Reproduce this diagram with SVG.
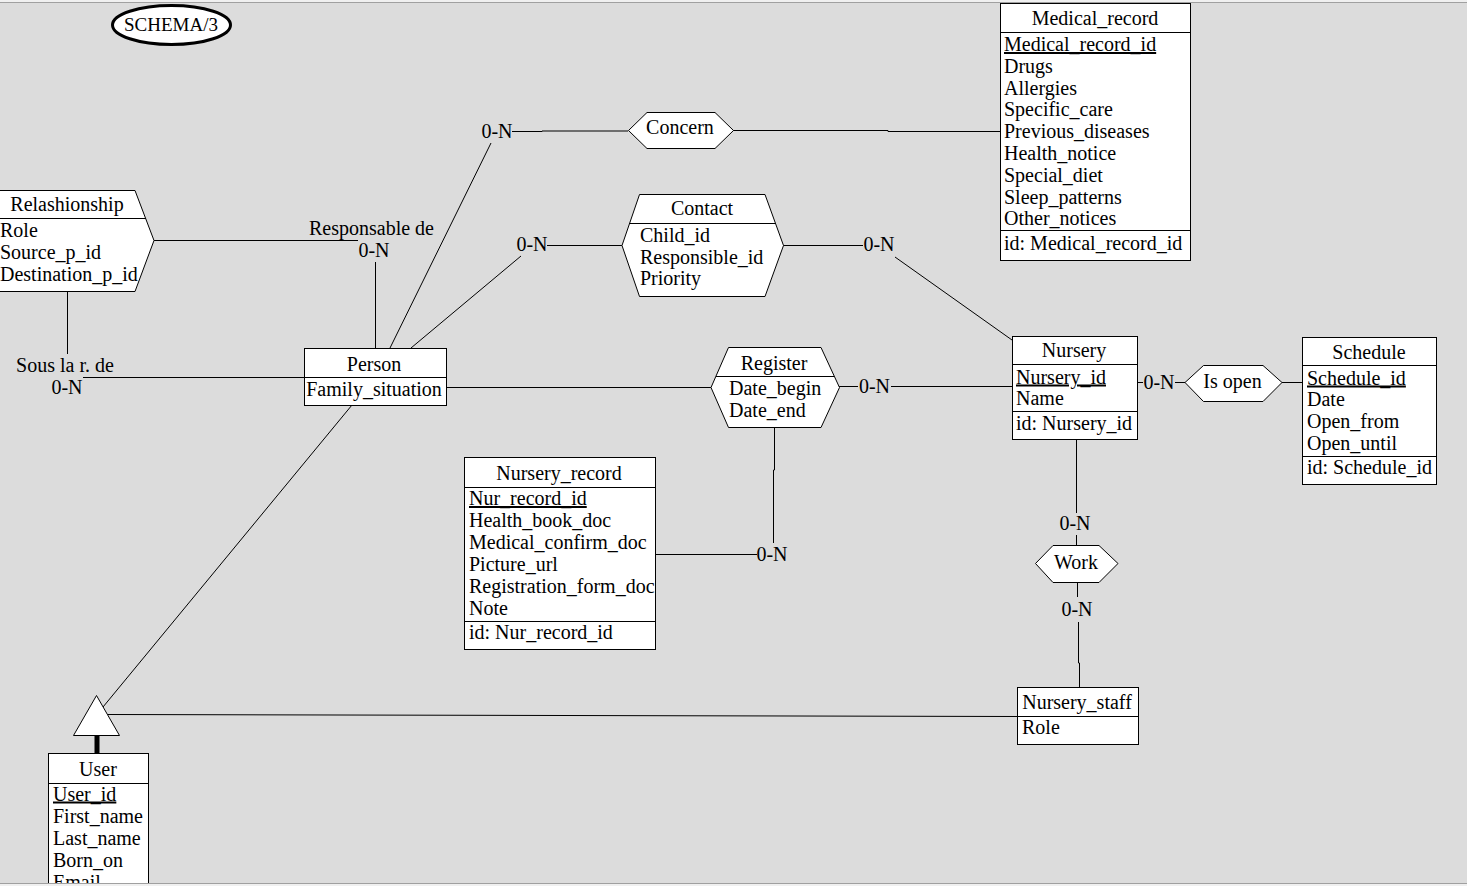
<svg xmlns="http://www.w3.org/2000/svg" width="1467" height="886" viewBox="0 0 1467 886">
<style>
.bg{fill:#dcdcdc}
.box{fill:#fff;stroke:#000;stroke-width:1}
.ln{fill:none;stroke:#000;stroke-width:1}
.t{font-family:"Liberation Serif","Times New Roman",serif;font-size:20px;fill:#000}
.m{text-anchor:middle}
.u{text-decoration:underline}
</style>
<rect class="bg" x="0" y="0" width="1467" height="886"/>

<g id="connectors">
  <!-- Relashionship to Person (Responsable de) -->
  <polyline class="ln" points="154,240.5 358,240.5"/>
  <line class="ln" x1="375.5" y1="262" x2="375.5" y2="348"/>
  <!-- Relashionship to Person (Sous la r. de) -->
  <line class="ln" x1="67.5" y1="291" x2="67.5" y2="354"/>
  <line class="ln" x1="83" y1="377.5" x2="304" y2="377.5"/>
  <!-- Person to Concern -->
  <line class="ln" x1="390" y1="348" x2="491" y2="143"/>
  <polyline class="ln" points="512,131.5 542,131.5 542,131 628,131"/>
  <!-- Concern to Medical_record -->
  <polyline class="ln" points="733,130.5 888,130.5 888,131.5 1000,131.5"/>
  <!-- Person to Contact -->
  <line class="ln" x1="411" y1="348" x2="521" y2="256"/>
  <line class="ln" x1="547" y1="245.5" x2="622" y2="245.5"/>
  <!-- Contact to Nursery -->
  <line class="ln" x1="783" y1="245.5" x2="863" y2="245.5"/>
  <line class="ln" x1="895" y1="257" x2="1012" y2="340"/>
  <!-- Person to Register -->
  <line class="ln" x1="446" y1="387.5" x2="711" y2="387.5"/>
  <!-- Register to Nursery -->
  <line class="ln" x1="839" y1="386.5" x2="858" y2="386.5"/>
  <line class="ln" x1="891" y1="386.5" x2="1012" y2="386.5"/>
  <!-- Register to Nursery_record -->
  <polyline class="ln" points="774.5,427 774.5,470 773.5,470 773.5,543"/>
  <line class="ln" x1="655" y1="554.5" x2="757" y2="554.5"/>
  <!-- Nursery to Is open to Schedule -->
  <line class="ln" x1="1137" y1="382.5" x2="1143" y2="382.5"/>
  <line class="ln" x1="1175" y1="382.5" x2="1185" y2="382.5"/>
  <line class="ln" x1="1282" y1="382.5" x2="1302" y2="382.5"/>
  <!-- Nursery to Work to Nursery_staff -->
  <line class="ln" x1="1076.5" y1="439" x2="1076.5" y2="513"/>
  <line class="ln" x1="1076.5" y1="535" x2="1076.5" y2="545"/>
  <line class="ln" x1="1077.5" y1="582" x2="1077.5" y2="597"/>
  <polyline class="ln" points="1078.5,622 1078.5,663 1079.5,663 1079.5,687"/>
  <!-- ISA -->
  <line class="ln" x1="352" y1="405" x2="103" y2="707"/>
  <line class="ln" x1="108" y1="714.5" x2="1017" y2="716.5"/>
  <line x1="97" y1="735" x2="97" y2="754" stroke="#000" stroke-width="5"/>
</g>

<g id="labels">
  <text class="t" x="309" y="235">Responsable de</text>
  <text class="t m" x="374" y="257">0-N</text>
  <text class="t m" x="65" y="372">Sous la r. de</text>
  <text class="t m" x="67" y="394">0-N</text>
  <text class="t m" x="497" y="138">0-N</text>
  <text class="t m" x="532" y="251">0-N</text>
  <text class="t m" x="879" y="251">0-N</text>
  <text class="t m" x="874.5" y="392.5">0-N</text>
  <text class="t m" x="772" y="561">0-N</text>
  <text class="t m" x="1159" y="388.5">0-N</text>
  <text class="t m" x="1075" y="530">0-N</text>
  <text class="t m" x="1077" y="616">0-N</text>
</g>

<g id="schema">
  <ellipse cx="171.5" cy="25" rx="59" ry="19.5" fill="#fff" stroke="#000" stroke-width="3"/>
  <text class="t m" x="171" y="31" style="font-size:19px">SCHEMA/3</text>
</g>

<g id="medical_record">
  <rect class="box" x="1000.5" y="3.5" width="190" height="257"/>
  <line class="ln" x1="1000.5" y1="32.5" x2="1190.5" y2="32.5"/>
  <line class="ln" x1="1000.5" y1="230.5" x2="1190.5" y2="230.5"/>
  <text class="t m" x="1095" y="25">Medical_record</text>
  <text class="t u" x="1004" y="51">Medical_record_id</text>
  <text class="t" x="1004" y="72.8">Drugs</text>
  <text class="t" x="1004" y="94.6">Allergies</text>
  <text class="t" x="1004" y="116.4">Specific_care</text>
  <text class="t" x="1004" y="138.2">Previous_diseases</text>
  <text class="t" x="1004" y="160">Health_notice</text>
  <text class="t" x="1004" y="181.8">Special_diet</text>
  <text class="t" x="1004" y="203.6">Sleep_patterns</text>
  <text class="t" x="1004" y="225.4">Other_notices</text>
  <text class="t" x="1004" y="250">id: Medical_record_id</text>
</g>

<g id="relashionship">
  <polygon class="box" points="-3,190.5 135,190.5 154,240.5 135,291.5 -3,291.5 -22,240.5"/>
  <line class="ln" x1="-10" y1="218.5" x2="146" y2="218.5"/>
  <text class="t m" x="67" y="211">Relashionship</text>
  <text class="t" x="0" y="237">Role</text>
  <text class="t" x="0" y="259">Source_p_id</text>
  <text class="t" x="0" y="281">Destination_p_id</text>
</g>

<g id="concern">
  <polygon class="box" points="628.5,130.5 647,112.5 715,112.5 733.5,130.5 715,148.5 647,148.5"/>
  <text class="t m" x="680" y="134">Concern</text>
</g>

<g id="contact">
  <polygon class="box" points="639.5,194.5 765,194.5 783.5,245.5 765,296.5 639.5,296.5 622,245.5"/>
  <line class="ln" x1="629" y1="223.5" x2="775" y2="223.5"/>
  <text class="t m" x="702" y="215">Contact</text>
  <text class="t" x="640" y="242">Child_id</text>
  <text class="t" x="640" y="263.5">Responsible_id</text>
  <text class="t" x="640" y="285">Priority</text>
</g>

<g id="person">
  <rect class="box" x="304.5" y="348.5" width="142" height="57"/>
  <line class="ln" x1="304.5" y1="377.5" x2="446.5" y2="377.5"/>
  <text class="t m" x="374" y="371">Person</text>
  <text class="t m" x="374" y="396">Family_situation</text>
</g>

<g id="register">
  <polygon class="box" points="728.5,347.5 821,347.5 839.5,387.5 821,427.5 728.5,427.5 711,387.5"/>
  <line class="ln" x1="716" y1="376.5" x2="834" y2="376.5"/>
  <text class="t m" x="774" y="370">Register</text>
  <text class="t" x="729" y="395">Date_begin</text>
  <text class="t" x="729" y="417">Date_end</text>
</g>

<g id="nursery_record">
  <rect class="box" x="464.5" y="457.5" width="191" height="192"/>
  <line class="ln" x1="464.5" y1="487.5" x2="655.5" y2="487.5"/>
  <line class="ln" x1="464.5" y1="621.5" x2="655.5" y2="621.5"/>
  <text class="t m" x="559" y="480">Nursery_record</text>
  <text class="t u" x="469" y="505">Nur_record_id</text>
  <text class="t" x="469" y="527">Health_book_doc</text>
  <text class="t" x="469" y="549">Medical_confirm_doc</text>
  <text class="t" x="469" y="571">Picture_url</text>
  <text class="t" x="469" y="593">Registration_form_doc</text>
  <text class="t" x="469" y="614.5">Note</text>
  <text class="t" x="469" y="638.5">id: Nur_record_id</text>
</g>

<g id="nursery">
  <rect class="box" x="1012.5" y="336.5" width="125" height="103"/>
  <line class="ln" x1="1012.5" y1="364.5" x2="1137.5" y2="364.5"/>
  <line class="ln" x1="1012.5" y1="411.5" x2="1137.5" y2="411.5"/>
  <text class="t m" x="1074" y="357">Nursery</text>
  <text class="t u" x="1016" y="383.5">Nursery_id</text>
  <text class="t" x="1016" y="404.5">Name</text>
  <text class="t" x="1016" y="429.5">id: Nursery_id</text>
</g>

<g id="is_open">
  <polygon class="box" points="1185,382.5 1203.5,365.5 1263,365.5 1282,382.5 1263,401.5 1203.5,401.5"/>
  <text class="t m" x="1232.5" y="388">Is open</text>
</g>

<g id="schedule">
  <rect class="box" x="1302.5" y="337.5" width="134" height="147"/>
  <line class="ln" x1="1302.5" y1="365.5" x2="1436.5" y2="365.5"/>
  <line class="ln" x1="1302.5" y1="456.5" x2="1436.5" y2="456.5"/>
  <text class="t m" x="1369" y="359">Schedule</text>
  <text class="t u" x="1307" y="384.5">Schedule_id</text>
  <text class="t" x="1307" y="406">Date</text>
  <text class="t" x="1307" y="428">Open_from</text>
  <text class="t" x="1307" y="449.5">Open_until</text>
  <text class="t" x="1307" y="474">id: Schedule_id</text>
</g>

<g id="work">
  <polygon class="box" points="1035.5,563.5 1053,545.5 1099,545.5 1118,563.5 1099,582.5 1053,582.5"/>
  <text class="t m" x="1076" y="568.5">Work</text>
</g>

<g id="nursery_staff">
  <rect class="box" x="1017.5" y="687.5" width="121" height="57"/>
  <line class="ln" x1="1017.5" y1="716.5" x2="1138.5" y2="716.5"/>
  <text class="t m" x="1077" y="709">Nursery_staff</text>
  <text class="t" x="1022" y="734">Role</text>
</g>

<g id="isa">
  <polygon class="box" points="96.5,695.5 119.5,735.5 73.5,735.5"/>
</g>

<g id="user">
  <rect class="box" x="48.5" y="753.5" width="100" height="150"/>
  <line class="ln" x1="48.5" y1="783.5" x2="148.5" y2="783.5"/>
  <text class="t m" x="98" y="776">User</text>
  <text class="t u" x="53" y="800.5">User_id</text>
  <text class="t" x="53" y="822.5">First_name</text>
  <text class="t" x="53" y="844.5">Last_name</text>
  <text class="t" x="53" y="866.5">Born_on</text>
  <text class="t" x="53" y="888.5">Email</text>
</g>

<g id="frame">
  <rect x="0" y="0" width="1467" height="2" fill="#f0f0f0"/>
  <line x1="0" y1="2.5" x2="1467" y2="2.5" stroke="#a0a0a0" stroke-width="1"/>
  <rect x="0" y="884" width="1467" height="2" fill="#f0f0f0"/>
  <line x1="0" y1="883.5" x2="1467" y2="883.5" stroke="#a0a0a0" stroke-width="1"/>
</g>
</svg>
